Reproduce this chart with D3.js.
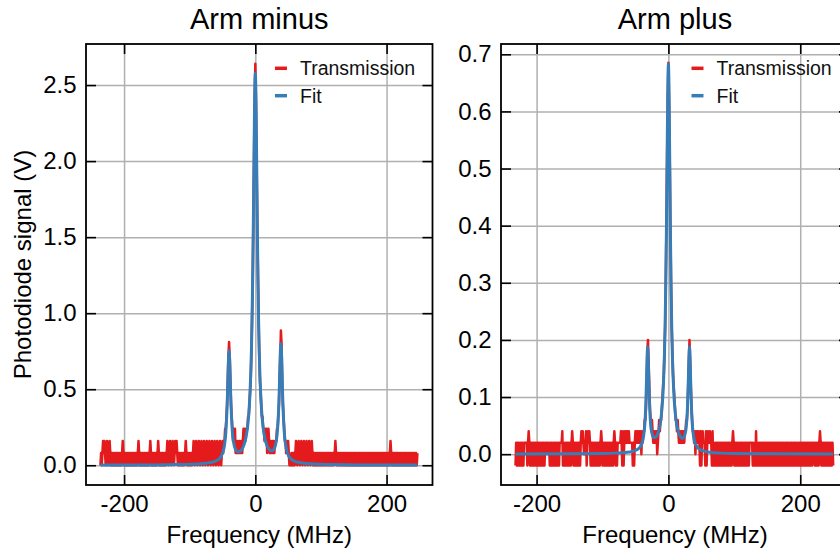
<!DOCTYPE html>
<html>
<head>
<meta charset="utf-8">
<script src="https://cdn.jsdelivr.net/npm/d3@7"></script>
<style>
  body { margin: 0; background: #fff; }
  svg { display: block; font-family: "Liberation Sans", Arial, Helvetica, sans-serif; }
</style>
</head>
<body>
<svg id="canvas" width="840" height="554"></svg>
<script>

// Titles and labels
var titles = ['Arm minus', 'Arm plus'];
var legendLabels = ['Transmission', 'Fit'];
var xLabel = 'Frequency (MHz)';
var yLabel = 'Photodiode signal (V)';

// Tick values
var xTicks = [-200, 0, 200];
var minusYTicks = [0, 0.5, 1.0, 1.5, 2.0, 2.5];
var plusYTicks = [0, 0.1, 0.2, 0.3, 0.4, 0.5, 0.6, 0.7];

// Arm minus, transmission.
// Scope noise is digitised: one code per 1 MHz, code = index into the level list
var minusLevels = [0, 0.08, 0.16];
var minusNoiseLeft =                                          // -236 .. -51 MHz
  '01012121012101210101' + '01010101010101210101' + '01010101010101010121' +
  '01010101010101012101' + '01010101210101010101' + '01210121012101212101' +
  '01010101012101010101' + '01210121012101210121' + '01210121012101210121' + '012101';
var minusNoiseRight =                                         // 54 .. 247 MHz
  '01010101210121012101' + '21012101210121010101' + '01010101010101010101' +
  '01010101210101010101' + '01010101010101010101' + '01010101010101010101' +
  '01010101010101010101' + '01010101010121010101' + '01010101010101010101' + '01010101010101';
// peak region, 1 MHz steps from -50 to 52 MHz
var minusPeak = [0.16, 0.08, 0.16, 0.16, 0.24, 0.24, 0.32, 0.40, 0.56, 0.72,
  0.81, 0.72, 0.56, 0.40, 0.32, 0.24, 0.16, 0.24, 0.16, 0.24,
  0.08, 0.16, 0.08, 0.16, 0.08, 0.08, 0.16, 0.08, 0.08, 0.16,
  0.08, 0.16, 0.24, 0.16, 0.24, 0.16, 0.24, 0.24, 0.24, 0.32,
  0.32, 0.40, 0.48, 0.56, 0.72, 0.96, 1.20, 1.60, 2.00, 2.40,
  2.64, 2.40, 2.00, 1.60, 1.28, 0.96, 0.72, 0.56, 0.48, 0.40,
  0.32, 0.32, 0.24, 0.24, 0.16, 0.24, 0.16, 0.24, 0.08, 0.16,
  0.24, 0.16, 0.08, 0.16, 0.08, 0.08, 0.16, 0.08, 0.16, 0.08,
  0.16, 0.16, 0.16, 0.24, 0.24, 0.32, 0.40, 0.56, 0.72, 0.886,
  0.80, 0.56, 0.40, 0.32, 0.24, 0.16, 0.16, 0.08, 0.16, 0.08,
  0.16, 0.08, 0.00];

// Arm minus, fit
var minusFitFreq = [-236, -200, -160, -120, -100, -80, -70, -60, -55, -50,
  -47, -45, -43, -42, -41, -40, -39, -38, -37, -35,
  -33, -30, -27, -25, -23, -20, -17, -14, -12, -10,
  -8, -6, -5, -4, -3, -2, -1, 0, 1, 2,
  3, 4, 5, 6, 8, 10, 12, 14, 17, 20,
  22, 24, 26, 28, 30, 32, 34, 36, 37, 38,
  39, 40, 41, 42, 44, 46, 49, 54, 59, 69,
  79, 100, 120, 160, 200, 247];
var minusFitVal = [0.001, 0.001, 0.002, 0.004, 0.006, 0.011, 0.016, 0.028, 0.042, 0.078,
  0.131, 0.211, 0.385, 0.526, 0.679, 0.753, 0.682, 0.531, 0.392, 0.223,
  0.147, 0.102, 0.089, 0.088, 0.092, 0.108, 0.137, 0.188, 0.245, 0.334,
  0.483, 0.745, 0.950, 1.228, 1.590, 2.020, 2.410, 2.578, 2.410, 2.020,
  1.590, 1.230, 0.951, 0.746, 0.484, 0.335, 0.246, 0.190, 0.138, 0.110,
  0.100, 0.095, 0.095, 0.103, 0.121, 0.160, 0.243, 0.418, 0.567, 0.727,
  0.800, 0.725, 0.562, 0.411, 0.225, 0.139, 0.080, 0.043, 0.028, 0.016,
  0.011, 0.006, 0.004, 0.002, 0.001, 0.001];

// Arm plus, transmission
var plusLevels = [-0.02, 0, 0.02, 0.04];
var plusNoiseLeft =                                           // -232 .. -44 MHz
  '0202020202' + '0202222202' + '3202020202' + '0202020202' + '0202021222' +
  '1202020202' + '0202020222' + '2302020202' + '0202023202' + '0202020202' +
  '3232121302' + '3232020202' + '0202020202' + '3202020202' + '0202020202' +
  '3202022222' + '3203023232' + '3232222202' + '023232323';
var plusNoiseRight =                                          // 44 .. 250 MHz
  '3232030232' + '2203023223' + '2203020202' + '0202020202' + '0202020202' +
  '0202320202' + '0202020202' + '0202020202' + '2222020203' + '0202020202' +
  '0202020202' + '0202020202' + '0202020202' + '0202020202' + '0202020202' +
  '0202020202' + '0202020202' + '0202022202' + '0202023202' + '0202020202' + '0202020';
// peak region, 1 MHz steps from -43 to 43 MHz
var plusPeak = [0.02, 0.04, 0.00, 0.04, 0.02, 0.04, 0.04, 0.06, 0.06, 0.08,
  0.12, 0.18, 0.20, 0.16, 0.12, 0.08, 0.06, 0.04, 0.06, 0.04,
  0.02, 0.04, 0.02, 0.04, 0.02, 0.04, 0.00, 0.02, 0.04, 0.06,
  0.04, 0.06, 0.06, 0.08, 0.10, 0.12, 0.14, 0.18, 0.22, 0.30,
  0.40, 0.52, 0.62, 0.685, 0.62, 0.52, 0.40, 0.30, 0.22, 0.18,
  0.14, 0.12, 0.10, 0.08, 0.06, 0.06, 0.04, 0.06, 0.04, 0.02,
  0.04, 0.02, 0.04, 0.02, 0.04, 0.02, 0.04, 0.02, 0.04, 0.04,
  0.06, 0.06, 0.08, 0.12, 0.16, 0.20, 0.16, 0.12, 0.08, 0.06,
  0.04, 0.04, 0.02, 0.04, 0.00, 0.04, 0.02];

// Arm plus, fit
var plusFitFreq = [-232, -150, -100, -80, -65, -55, -48, -44, -41.5, -39.5,
  -37.5, -36.5, -35.5, -34.5, -33.5, -32.5, -31.5, -30.5, -29.5, -28.5,
  -27.5, -26.5, -24.5, -22.5, -20, -18, -16, -14, -12, -10,
  -8, -6, -5, -4, -3, -2, -1, 0, 1, 2,
  3, 4, 5, 6, 8, 10, 12, 14, 16, 18,
  20, 22.5, 25, 27, 28, 29, 30, 31, 32, 33,
  34, 35, 36, 37, 39, 41, 44, 47, 52, 62,
  80, 100, 150, 250];
var plusFitVal = [0.0003, 0.0005, 0.001, 0.0018, 0.003, 0.0047, 0.0077, 0.011, 0.0156, 0.0213,
  0.033, 0.042, 0.057, 0.081, 0.117, 0.163, 0.188, 0.164, 0.119, 0.084,
  0.061, 0.048, 0.034, 0.029, 0.029, 0.031, 0.036, 0.044, 0.056, 0.077,
  0.111, 0.174, 0.225, 0.297, 0.393, 0.514, 0.630, 0.683, 0.630, 0.514,
  0.393, 0.297, 0.225, 0.174, 0.111, 0.077, 0.056, 0.044, 0.036, 0.031,
  0.028, 0.028, 0.034, 0.047, 0.061, 0.084, 0.119, 0.164, 0.188, 0.163,
  0.117, 0.081, 0.057, 0.042, 0.026, 0.018, 0.012, 0.0087, 0.006, 0.0034,
  0.0018, 0.001, 0.0005, 0.0002];


// Colours
var red = '#e41a1c';
var blue = '#377eb8';
var gridColor = '#b0b0b0';

var canvas = d3.select('#canvas');
var top0 = 44, bottom0 = 485;

function noisePoints(codes, start, levels) {
  return codes.split('').map(function (c, i) { return [start + i, levels[+c]]; });
}

function peakPoints(vals, start) {
  return vals.map(function (v, i) { return [start + i, v]; });
}

function zipPoints(fs, vs) {
  return fs.map(function (f, i) { return [f, vs[i]]; });
}

var panels = [
  {
    title: titles[0], left: 86, right: 432.5,
    xDomain: [-258, 270], yDomain: [-0.13, 2.77],
    yTicks: minusYTicks, yLabel: true,
    trace: noisePoints(minusNoiseLeft, -236, minusLevels)
      .concat(peakPoints(minusPeak, -50))
      .concat(noisePoints(minusNoiseRight, 54, minusLevels)),
    fit: zipPoints(minusFitFreq, minusFitVal)
  },
  {
    title: titles[1], left: 501, right: 849,
    xDomain: [-254, 274], yDomain: [-0.054, 0.718],
    yTicks: plusYTicks, yLabel: false,
    trace: noisePoints(plusNoiseLeft, -232, plusLevels)
      .concat(peakPoints(plusPeak, -43))
      .concat(noisePoints(plusNoiseRight, 44, plusLevels)),
    fit: zipPoints(plusFitFreq, plusFitVal)
  }
];

function styleTicks(sel) {
  sel.select('.domain').remove();
  sel.selectAll('.tick line').attr('stroke', '#000').attr('stroke-width', 1.6);
  sel.selectAll('.tick text').attr('fill', '#000').style('font-size', '24px')
    .style('font-family', '"Liberation Sans", Arial, Helvetica, sans-serif');
}

function drawPanel(p) {
  var x = d3.scaleLinear().domain(p.xDomain).range([p.left, p.right]);
  var y = d3.scaleLinear().domain(p.yDomain).range([bottom0, top0]);
  var h = bottom0 - top0, w = p.right - p.left;
  var g = canvas.append('g');

  // Grid
  g.append('g').attr('transform', 'translate(0,' + bottom0 + ')')
    .call(d3.axisBottom(x).tickValues(xTicks).tickSize(-h).tickFormat(''))
    .call(function (s) {
      s.select('.domain').remove();
      s.selectAll('line').attr('stroke', gridColor).attr('stroke-width', 1.5);
    });
  g.append('g').attr('transform', 'translate(' + p.left + ',0)')
    .call(d3.axisLeft(y).tickValues(p.yTicks).tickSize(-w).tickFormat(''))
    .call(function (s) {
      s.select('.domain').remove();
      s.selectAll('line').attr('stroke', gridColor).attr('stroke-width', 1.5);
    });

  // Data
  var line = d3.line().x(function (d) { return x(d[0]); }).y(function (d) { return y(d[1]); });
  g.append('path').datum(p.trace)
    .attr('d', line)
    .attr('fill', 'none').attr('stroke', red).attr('stroke-width', 2.5)
    .attr('stroke-linejoin', 'round');
  g.append('path').datum(p.fit)
    .attr('d', line.curve(d3.curveMonotoneX))
    .attr('fill', 'none').attr('stroke', blue).attr('stroke-width', 3)
    .attr('stroke-linejoin', 'round');

  // Ticks, all pointing in
  g.append('g').attr('transform', 'translate(0,' + bottom0 + ')')
    .call(d3.axisBottom(x).tickValues(xTicks).tickSizeInner(-10).tickSizeOuter(0).tickPadding(10)
      .tickFormat(function (d) { return String(d); }))
    .call(styleTicks);
  g.append('g').attr('transform', 'translate(0,' + top0 + ')')
    .call(d3.axisTop(x).tickValues(xTicks).tickSizeInner(-10).tickSizeOuter(0).tickFormat(''))
    .call(styleTicks);
  g.append('g').attr('transform', 'translate(' + p.left + ',0)')
    .call(d3.axisLeft(y).tickValues(p.yTicks).tickSizeInner(-10).tickSizeOuter(0).tickPadding(9.5)
      .tickFormat(d3.format('.1f')))
    .call(styleTicks);
  g.append('g').attr('transform', 'translate(' + p.right + ',0)')
    .call(d3.axisRight(y).tickValues(p.yTicks).tickSizeInner(-10).tickSizeOuter(0).tickFormat(''))
    .call(styleTicks);

  // Frame
  g.append('rect')
    .attr('x', p.left).attr('y', top0).attr('width', w).attr('height', h)
    .attr('fill', 'none').attr('stroke', '#000').attr('stroke-width', 1.8);

  // Legend
  var legend = g.append('g');
  [red, blue].forEach(function (c, i) {
    var ly = top0 + 24.3 + i * 27.4;
    legend.append('line')
      .attr('x1', p.right - 157.5).attr('x2', p.right - 145.5)
      .attr('y1', ly).attr('y2', ly)
      .attr('stroke', c).attr('stroke-width', 3.5);
    legend.append('text')
      .attr('x', p.right - 132.5).attr('y', ly + 7)
      .style('font-size', '19.5px').attr('fill', '#111')
      .text(legendLabels[i]);
  });

  // Title and axis labels
  var cx = (p.left + p.right) / 2;
  g.append('text').attr('x', cx).attr('y', 28.5)
    .attr('text-anchor', 'middle').style('font-size', '29px').attr('fill', '#000')
    .text(p.title);
  g.append('text').attr('x', cx).attr('y', 542.7)
    .attr('text-anchor', 'middle').style('font-size', '24px').attr('fill', '#000')
    .text(xLabel);
  if (p.yLabel) {
    g.append('text')
      .attr('transform', 'translate(30.5,' + (top0 + bottom0) / 2 + ') rotate(-90)')
      .attr('text-anchor', 'middle').style('font-size', '24px').attr('fill', '#000')
      .text(yLabel);
  }
}

panels.forEach(drawPanel);

</script>
</body>
</html>
